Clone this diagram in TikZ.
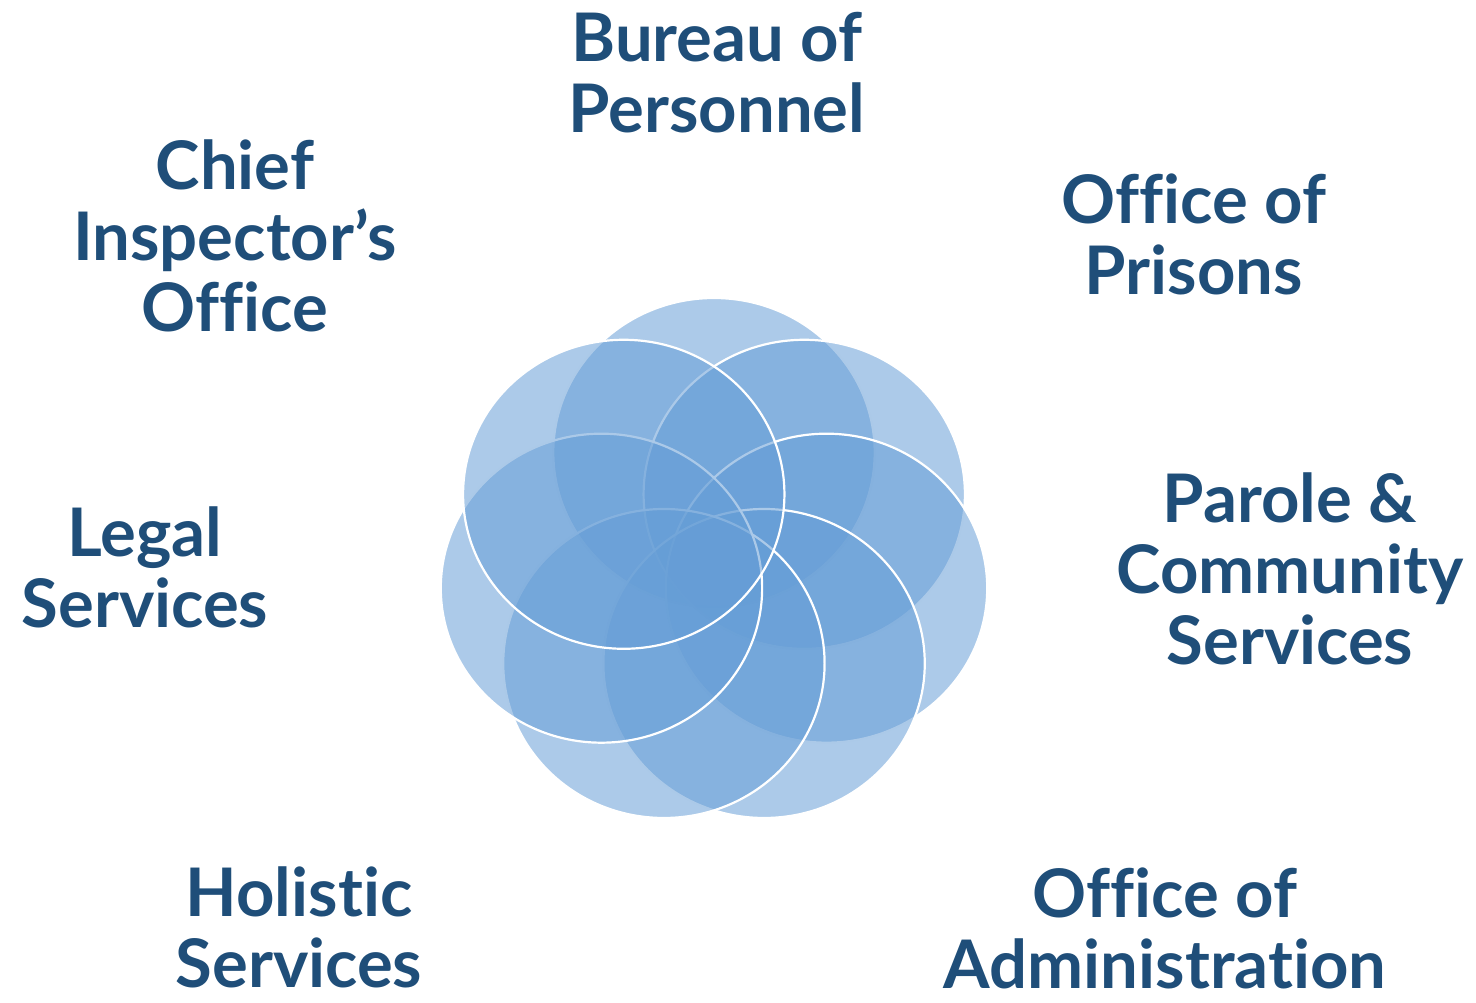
\documentclass[tikz,border=0pt]{standalone}
\usepackage{fontspec}
\setsansfont{Lato}[Ligatures=NoCommon]
\definecolor{petalblue}{RGB}{101,157,214}
\definecolor{labelblue}{RGB}{31,78,121}
\tikzset{
    petal/.style={fill=petalblue, fill opacity=0.54, draw=white, line width=2.2pt},
    unitlabel/.style={font=\sffamily\bfseries\fontsize{67}{71}\selectfont, text=labelblue,
        align=center, anchor=base, inner sep=0pt}
}
\begin{document}
\begin{tikzpicture}[x=1pt, y=1pt]
    \useasboundingbox (0,0) rectangle (1476,1003);

    % Fiore (sette petali)
    \begin{scope}[shift={(714,439.5)}, xscale=1.04]
        \foreach \k in {0,...,6} {
            \path[petal] ({90-\k*360/7}:111) circle (154.5);
        }
    \end{scope}

    % Etichette (ancorate alla linea di base dell'ultima riga)
    \node[unitlabel] (bureau)   at (717,870)  {Bureau of\\Personnel};
    \node[unitlabel] (prisons)  at (1194,708) {Office of\\Prisons};
    \node[unitlabel] (parole)   at (1290,338) {Parole \&\\Community\\Services};
    \node[unitlabel] (admin)    at (1165,14)  {Office of\\Administration};
    \node[unitlabel] (holistic) at (299,15)   {Holistic\\Services};
    \node[unitlabel] (legal)    at (145,375)  {Legal\\Services};
    \node[unitlabel] (chief)    at (235,671)  {Chief\\Inspector’s\\Office};
\end{tikzpicture}
\end{document}
